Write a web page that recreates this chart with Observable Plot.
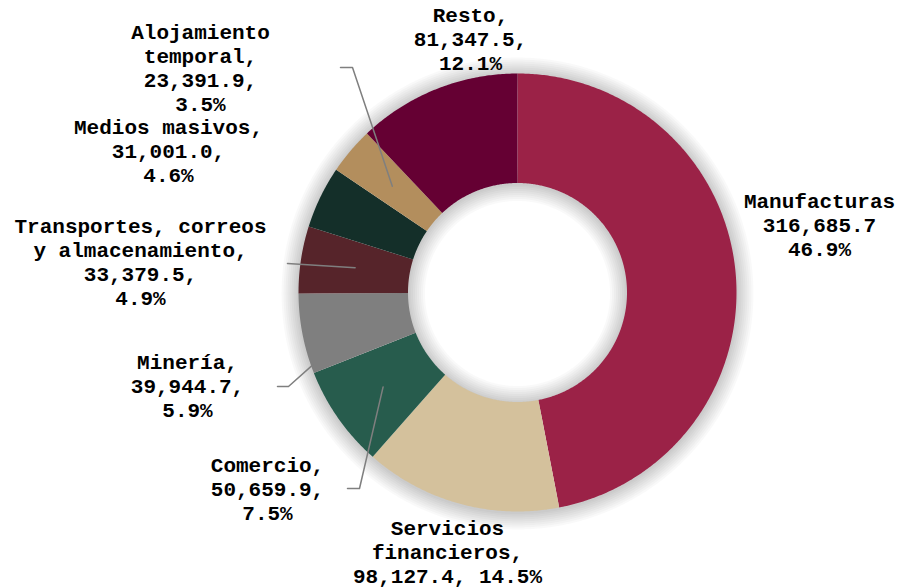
<!DOCTYPE html>
<html><head><meta charset="utf-8">
<script src="https://cdn.jsdelivr.net/npm/d3@7"></script>
<script src="https://cdn.jsdelivr.net/npm/@observablehq/plot@0.6"></script>
<style>
html,body{margin:0;padding:0;background:#fff;}
#chart svg{display:block;}
</style></head><body><div id="chart"></div>
<script>
// ---- data ----
const sectors = ["Manufacturas", "Servicios financieros", "Comercio", "Minería",
  "Transportes, correos y almacenamiento", "Medios masivos", "Alojamiento temporal", "Resto"];
const values = [316685.7, 98127.4, 50659.9, 39944.7, 33379.5, 31001.0, 23391.9, 81347.5];
const percents = [46.9, 14.5, 7.5, 5.9, 4.9, 4.6, 3.5, 12.1];

// ---- styles / layout ----
const sectorColors = ["#9B2247", "#D4C19C", "#275C4D", "#7F7F7F", "#56242A", "#142F29", "#B38E5D", "#650033"];
const W = 899, H = 588, cx = 517, cy = 292, rOuter = 219, rInner = 109.5;
const fontSize = 21, lineHeight = 24 / 21;
const shadowWidths = [34, 30, 26, 22, 18, 14, 10, 6, 3];
const labelLayout = [
  {x: 819, base: 207.3, brk: 0, commas: false, joinVP: false},
  {x: 447, base: 535, brk: 1, commas: true, joinVP: true},
  {x: 267, base: 471.7, brk: 0, commas: true, joinVP: false, leader: [[347, 488], [359, 488]]},
  {x: 187, base: 368.3, brk: 0, commas: true, joinVP: false, leader: [[277, 386], [288, 386]], end: {t: 0.1, r: 0.99}},
  {x: 140, base: 233, brk: 2, commas: true, joinVP: false, leader: [[287, 263]]},
  {x: 168, base: 134, brk: 0, commas: true, joinVP: false},
  {x: 200, base: 38.3, brk: 1, commas: true, joinVP: false, leader: [[340, 67], [352, 67]]},
  {x: 470, base: 21.7, brk: 0, commas: true, joinVP: false}
];

// ---- build geometry from data ----
const pie = d3.pie().sort(null).value(i => values[i]);
const arcs = pie(d3.range(sectors.length));
const pt = (a, r) => [cx + r * Math.sin(a), cy - r * Math.cos(a)];
const arcRing = (a0, a1, r) => {
  const n = Math.max(2, Math.ceil((a1 - a0) / (Math.PI / 360))), out = [];
  for (let k = 0; k <= n; ++k) out.push(pt(a0 + (a1 - a0) * k / n, r));
  return out;
};

const slices = arcs.map(a => {
  const ring = [...arcRing(a.startAngle, a.endAngle, rOuter), ...arcRing(a.startAngle, a.endAngle, rInner).reverse()];
  ring.push(ring[0]);
  return {type: "Feature", properties: {sector: sectors[a.data]}, geometry: {type: "Polygon", coordinates: [ring]}};
});

// outline of the whole ring, used for the soft shadow
const a0 = arcs[0].startAngle, a1 = arcs[arcs.length - 1].endAngle;
const outline = {type: "MultiLineString", coordinates: [arcRing(a0, a1, rOuter), arcRing(a0, a1, rInner)]};

const fmt = d3.format(",.1f");
const labels = arcs.map(a => {
  const i = a.data, L = labelLayout[i];
  let name = sectors[i];
  if (L.brk) {
    const w = name.split(" ");
    name = w.slice(0, L.brk).join(" ") + "\n" + w.slice(L.brk).join(" ");
  }
  const c = L.commas ? "," : "";
  const text = name + c + "\n" + fmt(values[i]) + c + (L.joinVP ? " " : "\n") + percents[i].toFixed(1) + "%";
  return {x: L.x, y: L.base - 0.71 * lineHeight * fontSize, text};
});

const leaderPoints = [];
arcs.forEach(a => {
  const i = a.data, L = labelLayout[i];
  if (!L.leader) return;
  L.leader.forEach(([x, y]) => leaderPoints.push({id: i, x, y}));
  const t = L.end ? L.end.t : 0.5;
  const r = L.end ? rOuter * L.end.r : (rOuter + rInner) / 2;
  const [x, y] = pt(a.startAngle + (a.endAngle - a.startAngle) * t, r);
  leaderPoints.push({id: i, x, y});
});

const chart = Plot.plot({
  width: W, height: H, margin: 0,
  projection: {type: "identity"},
  color: {domain: sectors, range: sectorColors},
  marks: [
    ...shadowWidths.map(w => Plot.geo(outline, {fill: "none", stroke: "#000", strokeOpacity: 0.022, strokeWidth: w, dy: 1})),
    Plot.geo(slices, {fill: d => d.properties.sector, stroke: "none"}),
    Plot.line(leaderPoints, {x: "x", y: "y", z: "id", stroke: "#7F7F7F", strokeWidth: 1.5}),
    Plot.text(labels, {x: "x", y: "y", text: "text", textAnchor: "middle", lineAnchor: "top",
      lineHeight, fontSize, fontWeight: "bold", fill: "#000",
      fontFamily: "'Courier New', 'Liberation Mono', monospace"})
  ]
});
document.getElementById("chart").appendChild(chart);
</script></body></html>
